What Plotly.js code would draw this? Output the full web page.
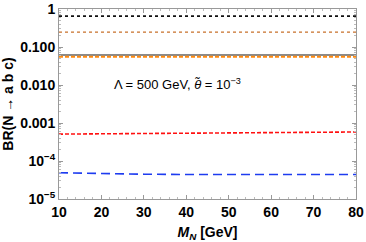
<!DOCTYPE html>
<html><head><meta charset="utf-8">
<script src="https://cdn.plot.ly/plotly-3.0.1.min.js"></script>
<style>html,body{margin:0;padding:0;background:#fff}#plot{width:366px;height:242px}</style>
</head><body><div id="plot"></div>
<script>
const mN = [10, 20, 30, 40, 50, 60, 70, 80];
const brBlackDot = [0.65, 0.65, 0.65, 0.65, 0.65, 0.65, 0.65, 0.65];
const brOrangeDot = [0.245, 0.245, 0.245, 0.245, 0.245, 0.245, 0.245, 0.245];
const brGraySolid = [0.0615, 0.0615, 0.0615, 0.0615, 0.0615, 0.0615, 0.0615, 0.0615];
const brOrangeDash = [0.0555, 0.0555, 0.0555, 0.0555, 0.0555, 0.0555, 0.0555, 0.0555];
const brRed = [0.00051, 0.00052, 0.00053, 0.00054, 0.00055, 0.00056, 0.00057, 0.00058];
const brBlue = [0.000049, 0.000046, 0.000045, 0.000044, 0.000044, 0.000044, 0.000044, 0.000044];
const yTickVals = [1, 0.1, 0.01, 0.001, 1e-4, 1e-5];
const yTickText = ["1", "0.100", "0.010", "0.001", "10<sup>−4</sup>", "10<sup>−5</sup>"];
const xTickVals = [10, 20, 30, 40, 50, 60, 70, 80];

function tr(y, color, dash, width) {
  return {x: mN, y: y, type: 'scatter', mode: 'lines', hoverinfo: 'skip',
    line: {color: color, dash: dash, width: width}};
}
const data = [
  tr(brBlackDot, '#111111', 'dot', 1.6),
  tr(brOrangeDot, '#c8702a', 'dot', 1.2),
  tr(brGraySolid, '#8a8a8a', 'solid', 2),
  tr(brOrangeDash, '#ff8a10', '4px,2px', 2),
  tr(brRed, '#ff1010', '4px,2px', 1.6),
  tr(brBlue, '#1e3cf0', '9px,5px', 1.6)
];
const font = {family: 'Liberation Sans, Arial, sans-serif', color: '#000'};
const layout = {
  width: 366, height: 242,
  margin: {l: 59, r: 10, t: 9, b: 43},
  paper_bgcolor: '#fff', plot_bgcolor: '#fff',
  showlegend: false,
  font: font,
  xaxis: {
    range: [10, 80], tickvals: xTickVals, ticks: 'inside', ticklen: 4, tickcolor: '#999',
    showline: true, linecolor: '#999', linewidth: 1, mirror: 'ticks', showgrid: false, zeroline: false,
    tickfont: {family: font.family, size: 14, weight: 'bold', color: '#000'},
    minor: {dtick: 2, ticks: 'inside', ticklen: 2, tickcolor: '#bbb', showgrid: false},
    title: {text: '<b><i>M</i><sub><i>N</i></sub> [GeV]</b>', font: {family: font.family, size: 14, color: '#000'}, standoff: 8}
  },
  yaxis: {
    type: 'log', range: [-5, 0], tickvals: yTickVals, ticktext: yTickText,
    ticks: 'inside', ticklen: 4, tickcolor: '#999',
    showline: true, linecolor: '#999', linewidth: 1, mirror: 'ticks', showgrid: false, zeroline: false,
    tickfont: {family: font.family, size: 14, weight: 'bold', color: '#000'},
    minor: {dtick: 'D1', ticks: 'inside', ticklen: 2, tickcolor: '#bbb', showgrid: false},
    title: {text: '<b>BR(N → a b c)</b>', font: {family: font.family, size: 14, color: '#000'}, standoff: 4}
  },
  annotations: [{
    xref: 'paper', yref: 'paper', x: 0.18, y: 0.605, xanchor: 'left', yanchor: 'middle', showarrow: false,
    text: 'Λ = 500 GeV, <i>θ̃</i> = 10<sup>−3</sup>',
    font: {family: font.family, size: 13, color: '#000'}
  }]
};
Plotly.newPlot('plot', data, layout, {staticPlot: true, displayModeBar: false});
</script></body></html>
